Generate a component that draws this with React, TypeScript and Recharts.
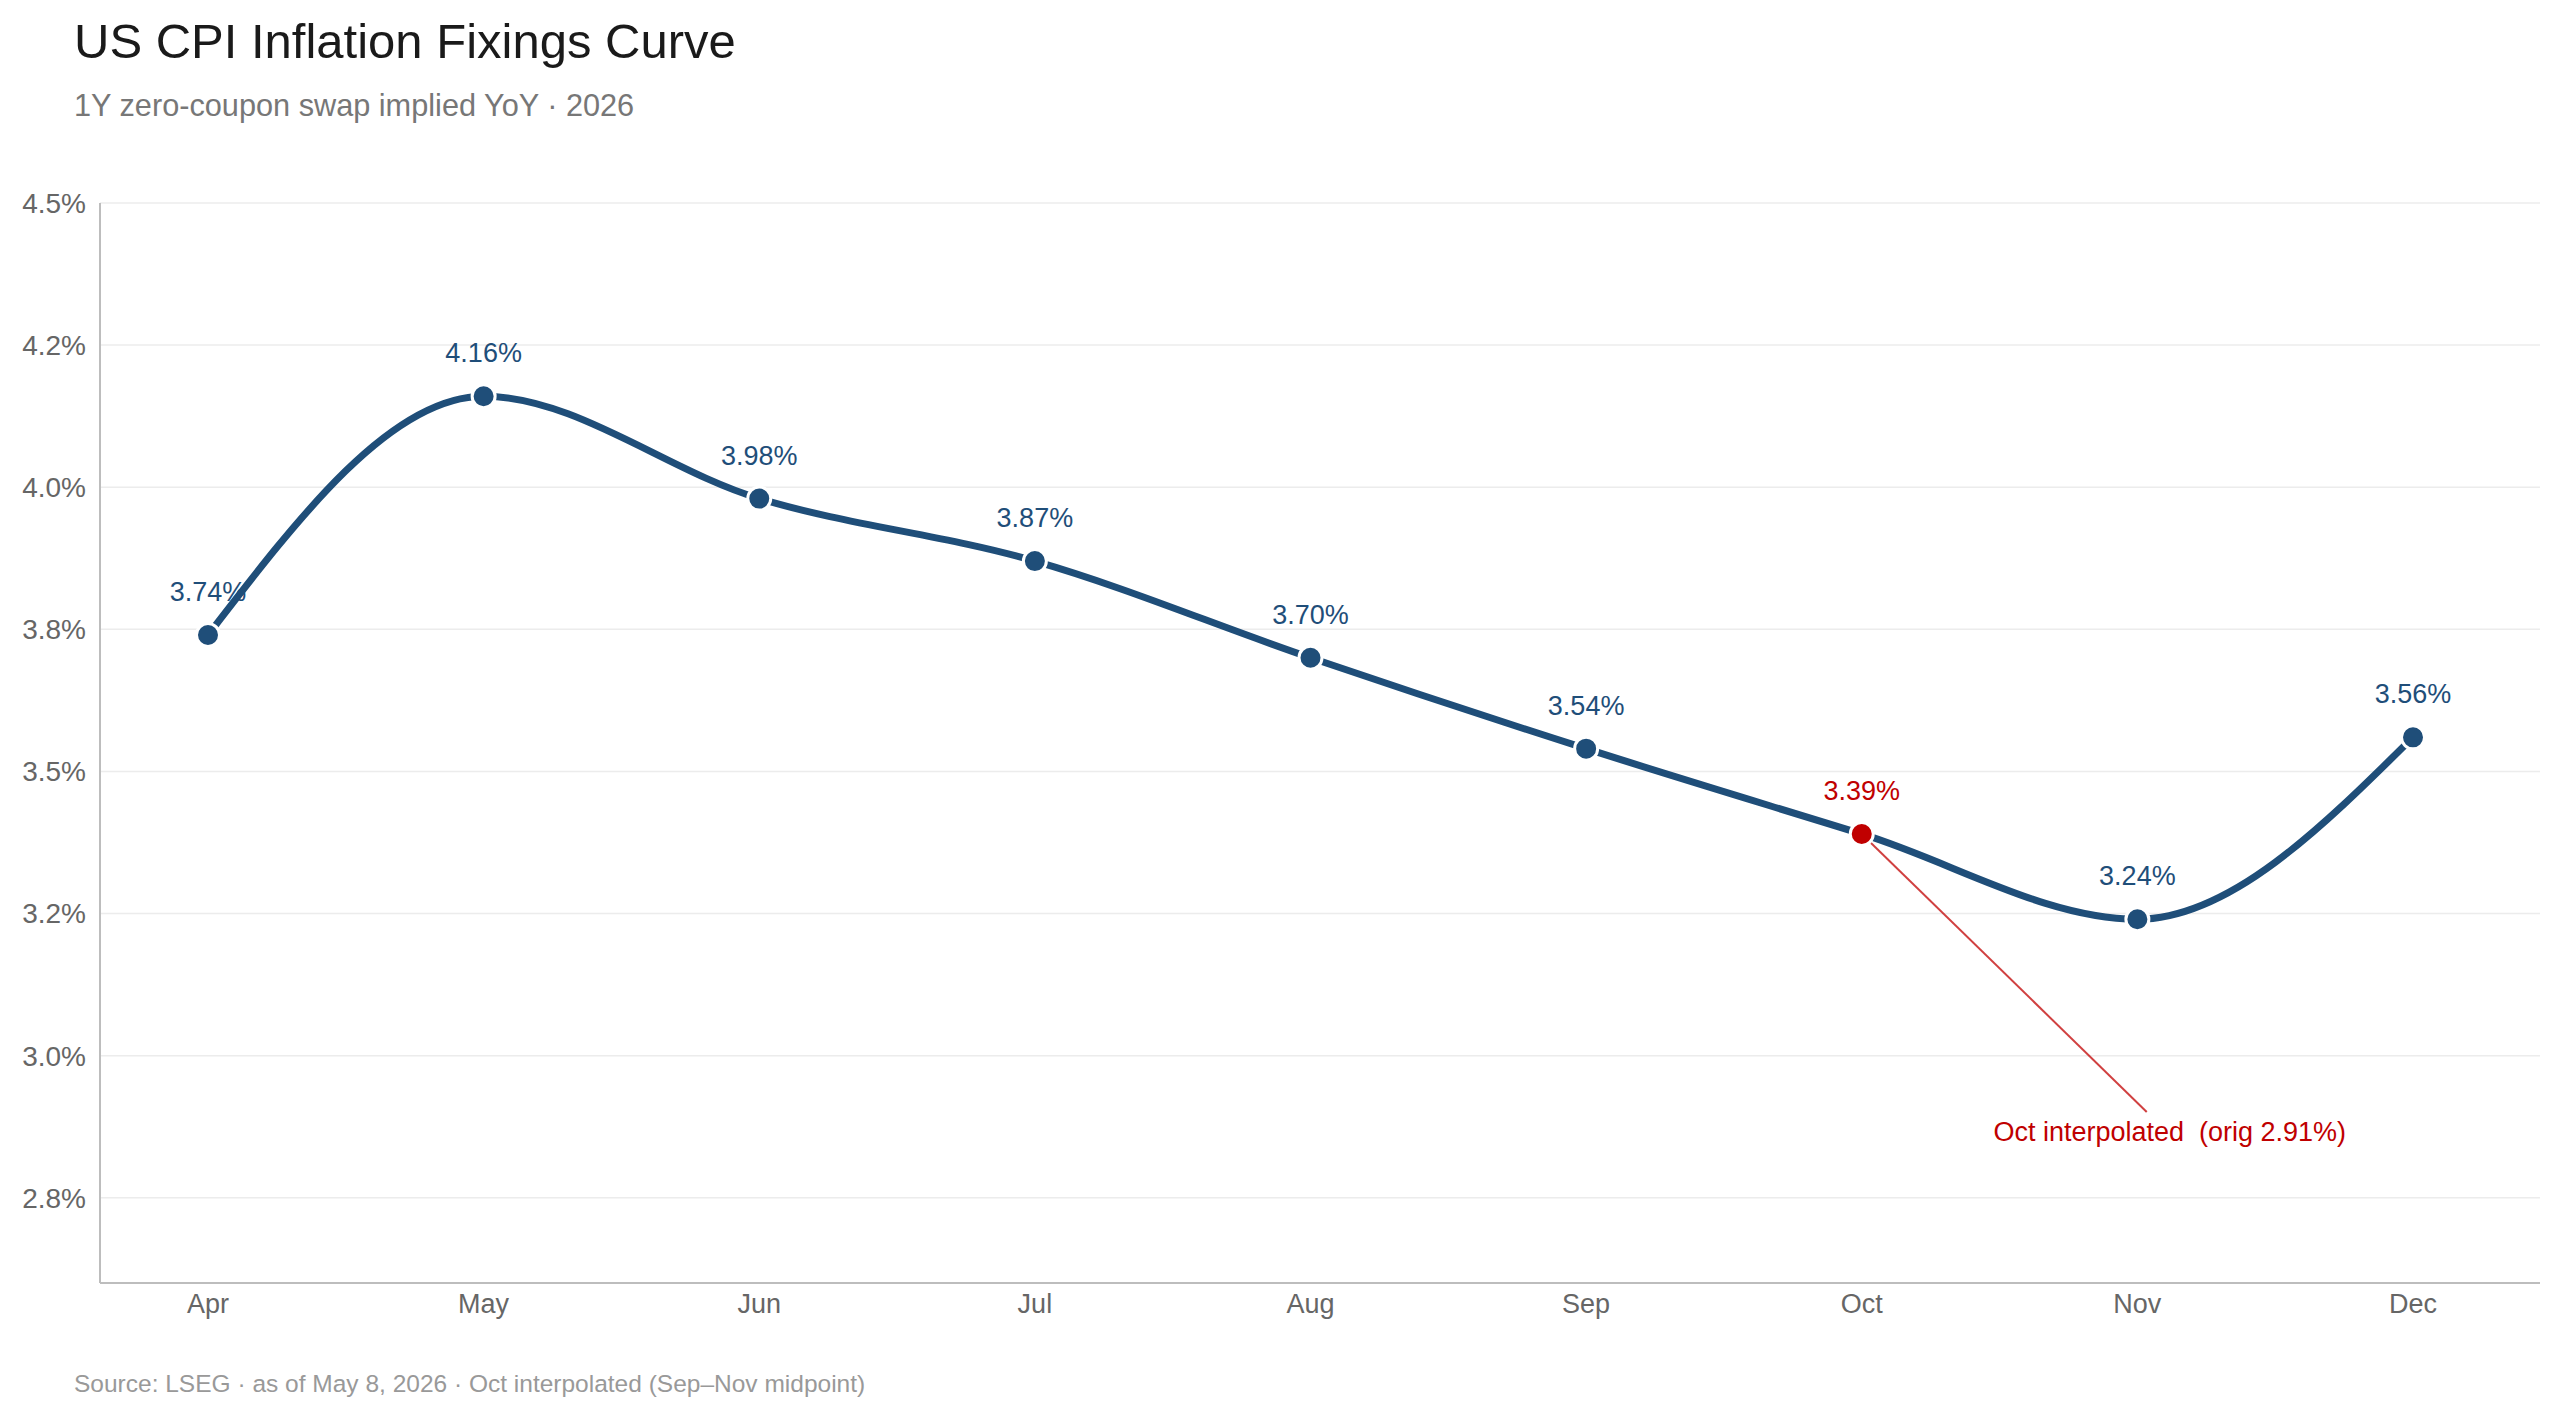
import { LineChart, Line, XAxis, YAxis, CartesianGrid, LabelList } from 'recharts';

const months = ['Apr', 'May', 'Jun', 'Jul', 'Aug', 'Sep', 'Oct', 'Nov', 'Dec'];
const fixings = [3.74, 4.16, 3.98, 3.87, 3.7, 3.54, 3.39, 3.24, 3.56];
const yTicks = [2.75, 3.0, 3.25, 3.5, 3.75, 4.0, 4.25, 4.5];
const yTickLabels = ['2.8%', '3.0%', '3.2%', '3.5%', '3.8%', '4.0%', '4.2%', '4.5%'];
const yDomain = [2.6, 4.5];
const interpolatedMonth = 'Oct';
const annotationText = 'Oct interpolated  (orig 2.91%)';

const BLUE = '#1f4e79';
const RED = '#c00000';
const AXIS = '#bdbdbd';
const FONT = '"Liberation Sans", Arial, Helvetica, sans-serif';

const data = months.map((month, i) => ({ month, value: fixings[i] }));

const FixingDot = (props: any) => {
  const { cx, cy, payload } = props;
  if (cx == null || cy == null) return null;
  const isInterp = payload.month === interpolatedMonth;
  return (
    <g>
      {isInterp && (
        <>
          <line x1={cx} y1={cy} x2={cx + 285} y2={cy + 278} stroke={RED} strokeOpacity={0.75} strokeWidth={2} />
          <text
            x={cx + 308}
            y={cy + 307}
            textAnchor="middle"
            fill={RED}
            fontSize={27}
            fontFamily={FONT}
            style={{ whiteSpace: 'pre' }}
          >
            {annotationText}
          </text>
        </>
      )}
      <circle cx={cx} cy={cy} r={11.5} fill={isInterp ? RED : BLUE} stroke="#fff" strokeWidth={3} />
    </g>
  );
};

const ValueLabel = (props: any) => {
  const { x, y, value, index } = props;
  const color = months[index] === interpolatedMonth ? RED : BLUE;
  return (
    <text x={x} y={y - 34} textAnchor="middle" fill={color} fontSize={27} fontFamily={FONT}>
      {`${Number(value).toFixed(2)}%`}
    </text>
  );
};

// bottom spine drawn as a grid line so it spans the whole plot width
const bottomSpine = ({ offset }: any) => [offset.top + offset.height];

export default function App() {
  return (
    <div style={{ position: 'absolute', left: 0, top: 0, width: 2560, height: 1418, background: '#fff', fontFamily: FONT }}>
      <div style={{ position: 'absolute', left: 74, top: 17, fontSize: 49, lineHeight: '49px', color: '#1a1a1a', whiteSpace: 'nowrap' }}>
        US CPI Inflation Fixings Curve
      </div>
      <div style={{ position: 'absolute', left: 74, top: 90, fontSize: 30.7, lineHeight: '31px', color: '#777', whiteSpace: 'nowrap' }}>
        1Y zero-coupon swap implied YoY · 2026
      </div>
      <div style={{ position: 'absolute', left: 0, top: 0 }}>
        <LineChart width={2560} height={1418} data={data} margin={{ top: 203, right: 20, bottom: 75, left: 0 }}>
          <CartesianGrid vertical={false} stroke="#ececec" strokeWidth={1.5} />
          <CartesianGrid vertical={false} horizontalCoordinatesGenerator={bottomSpine} stroke={AXIS} strokeWidth={2} />
          <XAxis
            dataKey="month"
            height={60}
            padding={{ left: 108, right: 127 }}
            tickLine={false}
            tickSize={0}
            tickMargin={11}
            axisLine={false}
            tick={{ fill: '#666', fontSize: 27, fontFamily: FONT }}
          />
          <YAxis
            width={100}
            domain={yDomain}
            ticks={yTicks}
            tickFormatter={(v: number) => yTickLabels[yTicks.indexOf(v)] ?? ''}
            tickLine={false}
            tickSize={0}
            tickMargin={14}
            axisLine={{ stroke: AXIS, strokeWidth: 2 }}
            tick={{ fill: '#666', fontSize: 28, fontFamily: FONT }}
            allowDataOverflow
          />
          <Line
            type="monotone"
            dataKey="value"
            stroke={BLUE}
            strokeWidth={7}
            dot={<FixingDot />}
            activeDot={false}
            isAnimationActive={false}
          >
            <LabelList dataKey="value" content={<ValueLabel />} />
          </Line>
        </LineChart>
      </div>
      <div style={{ position: 'absolute', left: 74, top: 1372, fontSize: 24.5, lineHeight: '24.5px', color: '#999', whiteSpace: 'nowrap' }}>
        Source: LSEG · as of May 8, 2026 · Oct interpolated (Sep–Nov midpoint)
      </div>
    </div>
  );
}
